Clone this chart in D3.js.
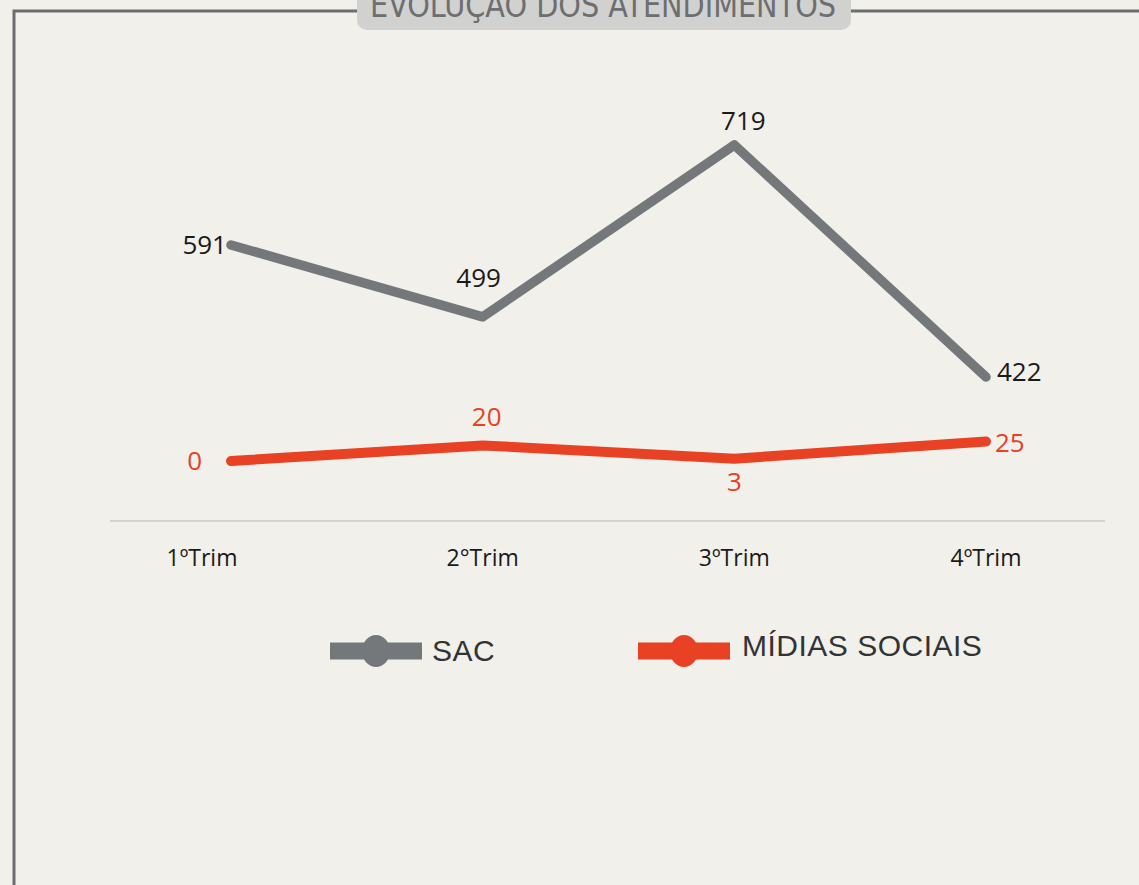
<!DOCTYPE html>
<html>
<head>
<meta charset="utf-8">
<script src="https://cdn.jsdelivr.net/npm/d3@7"></script>
<style>
	body { margin: 0; background: #f1f0ea; }
	svg { display: block; }
</style>
</head>
<body>
<div id="chart"></div>
<script>
const categories = ['1ºTrim', '2°Trim', '3ºTrim', '4ºTrim'];
const sacValues = [591, 499, 719, 422];
const midiasValues = [0, 20, 3, 25];
const seriesNames = ['SAC', 'MÍDIAS SOCIAIS'];
const titleText = 'EVOLUÇÃO DOS ATENDIMENTOS';

const width = 1139, height = 885;
const grey = '#75787b', red = '#e84124', frame = '#6d6e70';

const svg = d3.select('#chart').append('svg')
	.attr('width', width)
	.attr('height', height);

svg.append('rect').attr('width', width).attr('height', height).attr('fill', '#f1f0ea');

// frame: left and top lines, broken by the title box
svg.append('path')
	.attr('d', 'M14,885 V11 H357 M851,11 H1139')
	.attr('fill', 'none')
	.attr('stroke', frame)
	.attr('stroke-width', 3);

svg.append('rect')
	.attr('x', 357).attr('y', -20)
	.attr('width', 494).attr('height', 50)
	.attr('rx', 10)
	.attr('fill', '#d1d2d0');

// title sits partly above the page edge, as in the original
svg.append('text')
	.attr('x', 370).attr('y', 17)
	.attr('textLength', 466)
	.attr('lengthAdjust', 'spacingAndGlyphs')
	.attr('font-family', 'DejaVu Sans')
	.attr('font-stretch', 'condensed')
	.attr('font-size', 33)
	.attr('fill', frame)
	.text(titleText);

// scales: both series share the same px per unit but have their own zero
const x = d3.scalePoint().domain(categories).range([231, 986]);
const ySac = d3.scaleLinear().domain([237.6, 719]).range([521, 145]);
const yMid = d3.scaleLinear().domain([-76.8, 404.6]).range([521, 145]);

// baseline axis
svg.append('line')
	.attr('x1', 110).attr('x2', 1105)
	.attr('y1', 521).attr('y2', 521)
	.attr('stroke', '#d3d3cf')
	.attr('stroke-width', 2);

svg.append('g').selectAll('text')
	.data(categories)
	.join('text')
	.attr('x', d => x(d))
	.attr('dx', (d, i) => i === 0 ? -29 : 0)
	.attr('y', 566)
	.attr('text-anchor', 'middle')
	.attr('font-family', 'Open Sans')
	.attr('font-size', 23)
	.attr('fill', '#1a1a1a')
	.text(d => d);

const line = y => d3.line().x((d, i) => x(categories[i])).y(d => y(d));

svg.append('path')
	.datum(sacValues)
	.attr('d', line(ySac))
	.attr('fill', 'none')
	.attr('stroke', grey)
	.attr('stroke-width', 9.5)
	.attr('stroke-linecap', 'round')
	.attr('stroke-linejoin', 'round');

svg.append('path')
	.datum(midiasValues)
	.attr('d', line(yMid))
	.attr('fill', 'none')
	.attr('stroke', red)
	.attr('stroke-width', 10)
	.attr('stroke-linecap', 'round')
	.attr('stroke-linejoin', 'round');

// data labels: where each label sits relative to its point
const sacPos = ['left', 'high', 'above', 'right'];
const midPos = ['left', 'above', 'below', 'low'];
const offsets = {
	left: { dx: -4, dy: 9, anchor: 'end' },
	right: { dx: 11, dy: 4, anchor: 'start' },
	low: { dx: 9, dy: 11, anchor: 'start' },
	above: { dx: 4, dy: -19, anchor: 'middle' },
	high: { dx: 0, dy: -30, anchor: 'middle' },
	below: { dx: 0, dy: 32, anchor: 'middle' }
};

function labels(values, y, pos, color, extraX, extraY) {
	svg.append('g').selectAll('text')
		.data(values)
		.join('text')
		.attr('x', (d, i) => x(categories[i]) + offsets[pos[i]].dx + extraX[i])
		.attr('y', (d, i) => y(d) + offsets[pos[i]].dy + extraY[i])
		.attr('text-anchor', (d, i) => offsets[pos[i]].anchor)
		.attr('font-family', 'Open Sans')
		.attr('font-size', 26)
		.attr('fill', color)
		.text(d => d);
}
labels(sacValues, ySac, sacPos, '#1a1a1a', [0, -4, 5, 0], [0, 0, 4, 0]);
labels(midiasValues, yMid, midPos, red, [-25, 0, 0, 0], [0, 0, 0, 0]);

// legend
const legend = svg.append('g');
const legendItems = [
	{ name: seriesNames[0], color: grey, x0: 330, y: 651, tx: 432, ty: 661 },
	{ name: seriesNames[1], color: red, x0: 638, y: 651, tx: 742, ty: 656 }
];
legendItems.forEach(d => {
	legend.append('rect')
		.attr('x', d.x0).attr('y', d.y - 8.5)
		.attr('width', 92).attr('height', 17)
		.attr('fill', d.color);
	legend.append('ellipse')
		.attr('cx', d.x0 + 46).attr('cy', d.y)
		.attr('rx', 14).attr('ry', 16)
		.attr('fill', d.color);
	legend.append('text')
		.attr('x', d.tx).attr('y', d.ty)
		.attr('font-family', 'Liberation Sans')
		.attr('font-size', 30)
		.attr('letter-spacing', 0.5)
		.attr('fill', '#333336')
		.text(d.name);
});
</script>
</body>
</html>
